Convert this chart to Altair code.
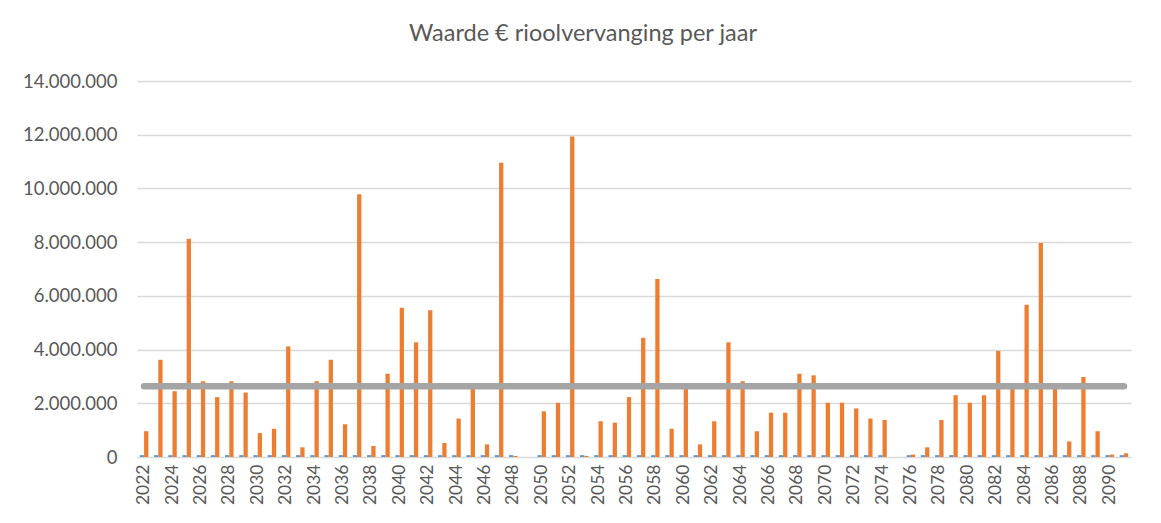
import altair as alt
import pandas as pd

years = list(range(2022, 2092))

# Waarde (orange series), euros
waarde = [
    960000, 3620000, 2450000, 8130000, 2820000, 2230000, 2820000, 2400000, 890000, 1050000,
    4120000, 360000, 2820000, 3620000, 1220000, 9780000, 410000, 3100000, 5560000, 4270000,
    5460000, 520000, 1430000, 2540000, 470000, 10960000, 40000, 0, 1700000, 2020000,
    11930000, 40000, 1330000, 1280000, 2230000, 4440000, 6630000, 1050000, 2540000, 470000,
    1330000, 4270000, 2820000, 960000, 1650000, 1650000, 3100000, 3040000, 2020000, 2020000,
    1810000, 1430000, 1380000, 0, 90000, 360000, 1380000, 2300000, 2020000, 2300000,
    3950000, 2540000, 5670000, 7970000, 2540000, 580000, 2980000, 960000, 90000, 140000,
]

# small blue series (barely visible at the baseline)
jaar_serie = [
    70000, 70000, 70000, 70000, 70000, 70000, 70000, 70000, 70000, 70000,
    70000, 70000, 70000, 70000, 70000, 70000, 70000, 70000, 70000, 70000,
    70000, 70000, 70000, 70000, 70000, 70000, 70000, 0, 70000, 70000,
    70000, 70000, 70000, 70000, 70000, 70000, 70000, 70000, 70000, 70000,
    70000, 70000, 70000, 70000, 70000, 70000, 70000, 70000, 70000, 70000,
    70000, 70000, 70000, 0, 70000, 70000, 70000, 70000, 70000, 70000,
    70000, 70000, 70000, 70000, 70000, 70000, 70000, 70000, 70000, 70000,
]

gemiddelde = 2630000

tick_years = [2022, 2024, 2026, 2028, 2030, 2032, 2034, 2036, 2038, 2040,
              2042, 2044, 2046, 2048, 2050, 2052, 2054, 2056, 2058, 2060,
              2062, 2064, 2066, 2068, 2070, 2072, 2074, 2076, 2078, 2080,
              2082, 2084, 2086, 2088, 2090]
y_ticks = [0, 2000000, 4000000, 6000000, 8000000, 10000000, 12000000, 14000000]

series_order = ["Jaar", "Waarde"]
series_colors = ["#5B9BD5", "#ED7D31"]

rows = []
for y, b, w in zip(years, jaar_serie, waarde):
    rows.append({"jaar": y, "serie": "Jaar", "waarde": b})
    rows.append({"jaar": y, "serie": "Waarde", "waarde": w})
bars_df = pd.DataFrame(rows)
avg_df = pd.DataFrame({"jaar": years, "gem": [gemiddelde] * len(years)})

FONT = "Lato"
GREY_TXT = "#595959"

x_enc = alt.X(
    "jaar:O",
    scale=alt.Scale(paddingInner=0.4, paddingOuter=0.2),
    axis=alt.Axis(
        title=None,
        values=tick_years,
        labelAngle=-90,
        labelFontSize=17.5,
        labelColor=GREY_TXT,
        labelFont=FONT,
        labelPadding=7,
        ticks=False,
        domainColor="#d9d9d9",
        domainWidth=1,
        grid=False,
    ),
)

bars = alt.Chart(bars_df).mark_bar().encode(
    x=x_enc,
    xOffset=alt.XOffset("serie:N", sort=series_order,
                        scale=alt.Scale(paddingInner=0, paddingOuter=0)),
    y=alt.Y(
        "waarde:Q",
        scale=alt.Scale(domain=[0, 14000000], nice=False),
        axis=alt.Axis(
            title=None,
            values=y_ticks,
            format=",d",
            labelFontSize=18.5,
            labelColor=GREY_TXT,
            labelFont=FONT,
            labelPadding=20,
            ticks=False,
            domain=False,
            gridColor="#d9d9d9",
            gridWidth=1.3,
        ),
    ),
    color=alt.Color("serie:N", sort=series_order,
                    scale=alt.Scale(domain=series_order, range=series_colors),
                    legend=None),
)

line = alt.Chart(avg_df).mark_line(color="#A5A5A5", strokeWidth=6.5, strokeCap="round").encode(
    x=alt.X("jaar:O"),
    y=alt.Y("gem:Q"),
)

chart = (
    alt.layer(bars, line)
    .properties(
        width=994,
        height=376,
        padding={"left": 129, "top": 73, "right": 22, "bottom": 50},
        autosize=alt.AutoSizeParams(type="none"),
        title=alt.TitleParams(
            "Waarde € rioolvervanging per jaar",
            font=FONT,
            fontSize=23.5,
            fontWeight="normal",
            color=GREY_TXT,
            anchor="middle",
            dx=-51,
            offset=27,
        ),
    )
    .configure(locale={"number": {"decimal": ",", "thousands": ".",
                                  "grouping": [3], "currency": ["€", ""]}})
    .configure_view(stroke=None)
)

chart.save("out.html", embed_options={"renderer": "svg", "actions": False})
